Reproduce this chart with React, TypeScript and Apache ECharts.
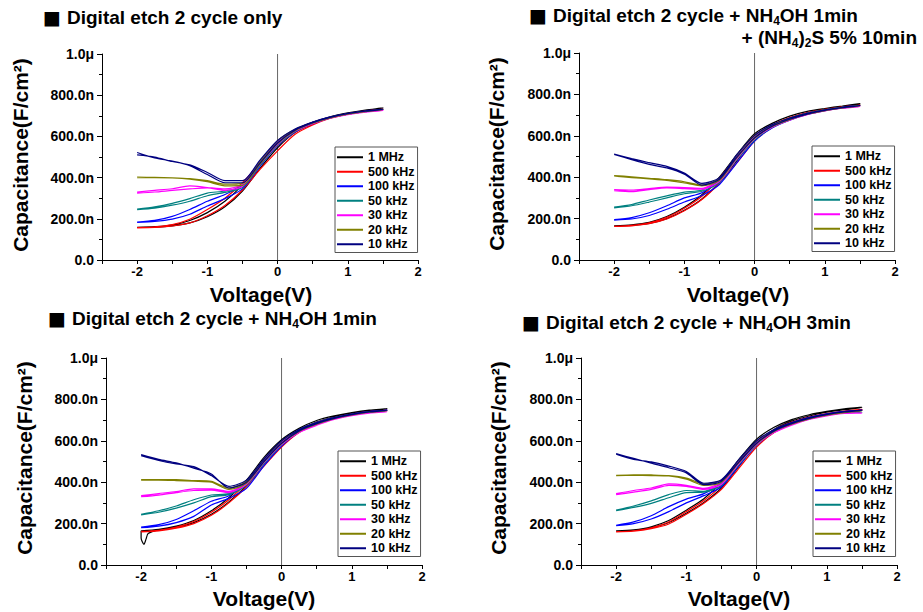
import React, { useEffect, useRef } from 'react';
import * as echarts from 'echarts';

// Sweep voltages (V)
const VOLTS = [-2, -1.75, -1.5, -1.25, -1, -0.75, -0.5, -0.25, 0, 0.25, 0.5, 0.75, 1, 1.25, 1.5];
const FREQS = ['1 MHz', '500 kHz', '100 kHz', '50 kHz', '30 kHz', '20 kHz', '10 kHz'];
const COLORS = ['#000000', '#ff0000', '#0000ff', '#008080', '#ff00ff', '#808000', '#000080'];

// Capacitance values in nF/cm², one row per frequency (same order as FREQS)
// Panel 1: Digital etch 2 cycle only
const P1_FWD = [
  [158, 160, 166, 180, 210, 258, 335, 445, 545, 620, 663, 692, 712, 726, 738],
  [156, 158, 165, 180, 215, 265, 340, 440, 530, 610, 655, 688, 708, 721, 732],
  [183, 187, 198, 222, 262, 298, 345, 455, 555, 622, 662, 690, 708, 720, 730],
  [245, 252, 266, 285, 312, 328, 352, 460, 558, 624, 664, 690, 708, 720, 730],
  [325, 330, 338, 345, 350, 338, 358, 465, 562, 626, 662, 688, 706, 718, 726],
  [400, 400, 398, 392, 380, 360, 362, 465, 565, 628, 664, 690, 708, 720, 730],
  [522, 495, 480, 458, 415, 375, 375, 470, 568, 630, 666, 692, 710, 722, 732],
];
const P1_REV = [
  [158, 162, 170, 192, 230, 285, 365, 475, 570, 630, 668, 695, 714, 728, 740],
  [157, 161, 172, 198, 245, 300, 375, 470, 555, 620, 660, 690, 710, 723, 734],
  [184, 192, 212, 245, 285, 318, 365, 480, 575, 630, 668, 693, 710, 722, 732],
  [247, 258, 275, 298, 325, 335, 360, 475, 570, 630, 667, 692, 710, 722, 732],
  [330, 338, 346, 360, 352, 345, 368, 478, 575, 632, 667, 692, 710, 721, 728],
  [402, 401, 399, 395, 385, 368, 372, 478, 578, 634, 668, 693, 710, 722, 732],
  [510, 500, 478, 462, 425, 385, 385, 485, 580, 636, 670, 695, 712, 724, 734],
];
// Panel 2: + NH4OH 1min + (NH4)2S 5% 10min
const P2_FWD = [
  [165, 168, 177, 200, 240, 295, 375, 480, 590, 648, 685, 710, 728, 740, 752],
  [162, 165, 175, 198, 238, 292, 372, 470, 575, 640, 680, 706, 725, 738, 748],
  [193, 198, 215, 245, 280, 312, 365, 470, 575, 638, 675, 703, 722, 735, 746],
  [252, 262, 280, 300, 320, 332, 375, 485, 580, 640, 677, 704, 722, 735, 745],
  [335, 330, 340, 348, 345, 342, 380, 490, 585, 642, 676, 702, 720, 733, 742],
  [405, 398, 392, 385, 372, 358, 385, 495, 588, 645, 678, 704, 722, 735, 745],
  [510, 485, 462, 445, 415, 362, 390, 498, 590, 646, 680, 705, 723, 736, 746],
];
const P2_REV = [
  [165, 170, 182, 210, 255, 315, 400, 510, 610, 660, 695, 718, 732, 744, 756],
  [163, 168, 180, 206, 250, 308, 395, 500, 600, 652, 688, 712, 728, 740, 750],
  [195, 205, 228, 262, 300, 325, 385, 495, 598, 650, 685, 710, 726, 738, 748],
  [255, 268, 290, 310, 328, 338, 390, 500, 595, 648, 684, 708, 725, 737, 747],
  [340, 338, 345, 352, 350, 346, 392, 505, 598, 650, 682, 706, 723, 735, 744],
  [408, 402, 395, 388, 378, 362, 395, 508, 600, 652, 684, 708, 725, 737, 747],
  [512, 490, 470, 452, 420, 370, 398, 510, 602, 654, 686, 709, 726, 738, 748],
];
// Panel 3: + NH4OH 1min
const P3_FWD = [
  [160, 170, 182, 205, 245, 305, 385, 490, 590, 650, 690, 715, 732, 744, 755],
  [160, 165, 178, 200, 240, 300, 378, 478, 570, 640, 680, 708, 726, 739, 748],
  [180, 188, 205, 235, 290, 322, 370, 480, 575, 642, 680, 708, 726, 739, 748],
  [242, 255, 275, 300, 330, 340, 385, 490, 580, 645, 680, 707, 725, 738, 746],
  [330, 338, 350, 360, 362, 350, 390, 495, 582, 640, 675, 703, 721, 734, 740],
  [410, 410, 408, 405, 400, 365, 395, 498, 585, 645, 680, 707, 725, 738, 745],
  [533, 510, 493, 468, 440, 372, 400, 500, 588, 648, 683, 708, 726, 739, 748],
];
const P3_REV = [
  [165, 172, 188, 215, 262, 325, 410, 520, 605, 660, 698, 720, 736, 748, 758],
  [162, 168, 183, 210, 255, 315, 398, 505, 590, 650, 688, 712, 729, 741, 750],
  [183, 195, 220, 262, 308, 335, 400, 505, 595, 652, 688, 712, 729, 741, 750],
  [245, 262, 285, 315, 338, 346, 400, 505, 595, 653, 687, 711, 728, 740, 748],
  [335, 345, 355, 368, 368, 356, 400, 508, 595, 648, 682, 707, 724, 736, 742],
  [412, 413, 412, 408, 404, 372, 405, 510, 598, 652, 686, 711, 728, 740, 747],
  [528, 505, 488, 475, 432, 380, 410, 512, 600, 655, 688, 712, 729, 741, 750],
];
// glitch at the start of the 1 MHz sweep in panel 3
const P3_SPIKE_V = [-2, -2, -1.96, -1.93, -1.9];
const P3_SPIKE_C = [165, 130, 100, 125, 152];
// Panel 4: + NH4OH 3min
const P4_FWD = [
  [165, 168, 180, 205, 250, 302, 372, 478, 590, 655, 695, 720, 738, 750, 762],
  [160, 163, 175, 198, 245, 298, 365, 468, 570, 640, 682, 710, 728, 740, 748],
  [190, 200, 222, 258, 300, 335, 378, 480, 578, 642, 682, 708, 726, 739, 748],
  [262, 278, 298, 325, 350, 352, 385, 485, 580, 643, 680, 706, 724, 736, 738],
  [340, 352, 365, 385, 380, 365, 390, 490, 582, 640, 676, 703, 720, 732, 734],
  [432, 433, 432, 430, 415, 385, 400, 495, 585, 645, 680, 706, 724, 736, 745],
  [538, 515, 492, 470, 445, 388, 405, 498, 588, 648, 683, 708, 726, 739, 748],
];
const P4_REV = [
  [165, 170, 185, 215, 265, 320, 400, 510, 608, 665, 702, 726, 742, 754, 765],
  [161, 165, 180, 208, 258, 312, 385, 495, 590, 652, 690, 715, 732, 744, 752],
  [192, 208, 238, 282, 318, 345, 395, 500, 595, 652, 688, 713, 730, 742, 750],
  [265, 285, 310, 340, 360, 356, 398, 500, 595, 652, 686, 710, 727, 738, 740],
  [345, 360, 372, 392, 385, 370, 400, 505, 595, 648, 682, 707, 724, 735, 736],
  [433, 436, 435, 432, 420, 392, 410, 508, 598, 652, 686, 710, 727, 738, 747],
  [535, 510, 498, 478, 452, 395, 412, 510, 600, 655, 688, 712, 729, 741, 750],
];

const TITLE_1 = '{a|Digital etch 2 cycle only}';
const TITLE_2A = '{a|Digital etch 2 cycle + NH}{s|4}{a|OH 1min}';
const TITLE_2B = '{a|+ (NH}{s|4}{a|)}{s|2}{a|S 5% 10min}';
const TITLE_3 = '{a|Digital etch 2 cycle + NH}{s|4}{a|OH 1min}';
const TITLE_4 = '{a|Digital etch 2 cycle + NH}{s|4}{a|OH 3min}';
const Y_TITLE = 'Capacitance(F/cm²)';
const X_TITLE = 'Voltage(V)';

const FONT = 'Liberation Sans, Arial, sans-serif';

const PANELS = [
  { fwd: P1_FWD, rev: P1_REV, grid: { left: 102, top: 54, width: 316, height: 206 }, legend: { left: 335, top: 147 }, yT: [20, 155], xT: [261, 294] },
  { fwd: P2_FWD, rev: P2_REV, grid: { left: 579, top: 53, width: 316, height: 207 }, legend: { left: 812, top: 146 }, yT: [496, 154], xT: [738, 294] },
  { fwd: P3_FWD, rev: P3_REV, grid: { left: 106, top: 358, width: 316, height: 207 }, legend: { left: 338, top: 451 }, yT: [24, 458], xT: [264, 598] },
  { fwd: P4_FWD, rev: P4_REV, grid: { left: 581, top: 358, width: 316, height: 207 }, legend: { left: 813, top: 451 }, yT: [498, 458], xT: [739, 598] },
];

const richTitle = {
  a: { fontFamily: FONT, fontSize: 19, fontWeight: 'bold', fill: '#000', lineHeight: 24, verticalAlign: 'middle' },
  s: { fontFamily: FONT, fontSize: 12, fontWeight: 'bold', fill: '#000', lineHeight: 14, verticalAlign: 'bottom' },
};

function titleText(x: number, y: number, text: string, align = 'left') {
  return {
    type: 'text', x, y, silent: true,
    style: { text, rich: richTitle, align, verticalAlign: 'middle', fill: '#000' },
  };
}
function square(x: number, y: number) {
  return {
    type: 'text', x, y, silent: true,
    style: { text: '■', fontFamily: 'DejaVu Sans', fontSize: 19, fill: '#000', align: 'left', verticalAlign: 'middle' },
  };
}

export default function App() {
  const ref = useRef<HTMLDivElement>(null);
  useEffect(() => {
    if (!ref.current) return;
    const chart = echarts.init(ref.current, undefined, { renderer: 'svg' });
    const grids: any[] = [];
    const xAxes: any[] = [];
    const yAxes: any[] = [];
    const legends: any[] = [];
    const series: any[] = [];
    const graphics: any[] = [];

    PANELS.forEach((p, pi) => {
      grids.push({ ...p.grid, containLabel: false });
      xAxes.push({
        type: 'value', gridIndex: pi, min: -2.5, max: 2, interval: 0.5,
        axisLine: { show: true, onZero: false, lineStyle: { color: '#000', width: 1 } },
        axisTick: { show: true, length: 4, lineStyle: { color: '#000' } },
        splitLine: { show: false },
        axisLabel: {
          margin: 5, color: '#000', fontFamily: FONT, fontWeight: 'bold', fontSize: 13,
          formatter: (v: number) => (Math.abs(v - Math.round(v)) < 1e-9 ? String(Math.round(v)) : ''),
        },
      });
      yAxes.push({
        type: 'value', gridIndex: pi, min: 0, max: 1000, interval: 200,
        axisLine: { show: true, onZero: false, lineStyle: { color: '#000', width: 1 } },
        axisTick: { show: true, length: 5, lineStyle: { color: '#000' } },
        minorTick: { show: true, splitNumber: 2, length: 3, lineStyle: { color: '#000' } },
        splitLine: { show: false },
        axisLabel: {
          margin: 8, color: '#000', fontFamily: FONT, fontWeight: 'bold', fontSize: 14,
          formatter: (v: number) => (v === 1000 ? '1.0μ' : v === 0 ? '0.0' : v.toFixed(1) + 'n'),
        },
      });
      legends.push({
        show: true, orient: 'vertical', left: p.legend.left, top: p.legend.top,
        data: FREQS, icon: 'rect', itemWidth: 26, itemHeight: 2, itemGap: 0,
        padding: [3, 3, 1, 2], borderColor: '#555', borderWidth: 1, backgroundColor: '#fff',
        selectedMode: false,
        textStyle: { fontFamily: FONT, fontSize: 12.5, fontWeight: 'bold', color: '#000', lineHeight: 14.5 },
      });
      // zero-voltage vertical line
      series.push({
        type: 'line', name: 'zero' + pi, xAxisIndex: pi, yAxisIndex: pi, silent: true,
        data: [[0, 0], [0, 1000]], symbol: 'none', lineStyle: { color: '#666', width: 1 }, z: 1,
      });
      FREQS.forEach((f, fi) => {
        let fwdPts: number[][] = p.fwd[fi].map((c, i) => [VOLTS[i], c]);
        if (pi === 2 && fi === 0) {
          const spike = P3_SPIKE_V.map((v, i) => [v, P3_SPIKE_C[i]]);
          fwdPts = spike.concat(fwdPts.slice(1));
        }
        const revPts = p.rev[fi].map((c, i) => [VOLTS[i], c]).reverse();
        series.push({
          type: 'line', name: f, xAxisIndex: pi, yAxisIndex: pi,
          data: fwdPts.concat(revPts), symbol: 'none', showSymbol: false, smooth: 0.25,
          lineStyle: { color: COLORS[fi], width: 1.2 }, itemStyle: { color: COLORS[fi] }, z: 2,
        });
      });
      graphics.push({
        type: 'text', x: p.yT[0], y: p.yT[1], rotation: Math.PI / 2, silent: true,
        style: { text: Y_TITLE, fontFamily: FONT, fontSize: 21, fontWeight: 'bold', fill: '#000', align: 'center', verticalAlign: 'middle' },
      });
      graphics.push({
        type: 'text', x: p.xT[0], y: p.xT[1], silent: true,
        style: { text: X_TITLE, fontFamily: FONT, fontSize: 21, fontWeight: 'bold', fill: '#000', align: 'center', verticalAlign: 'middle' },
      });
    });

    graphics.push(square(43, 17), titleText(67, 17, TITLE_1));
    graphics.push(square(529, 15), titleText(553, 15, TITLE_2A), titleText(917, 37, TITLE_2B, 'right'));
    graphics.push(square(48, 318), titleText(72, 318, TITLE_3));
    graphics.push(square(522, 322), titleText(546, 322, TITLE_4));

    chart.setOption({
      animation: false,
      backgroundColor: '#fff',
      grid: grids,
      xAxis: xAxes,
      yAxis: yAxes,
      legend: legends,
      series,
      graphic: graphics,
    });
    return () => chart.dispose();
  }, []);
  return <div ref={ref} style={{ position: 'fixed', left: 0, top: 0, width: 923, height: 612 }} />;
}
